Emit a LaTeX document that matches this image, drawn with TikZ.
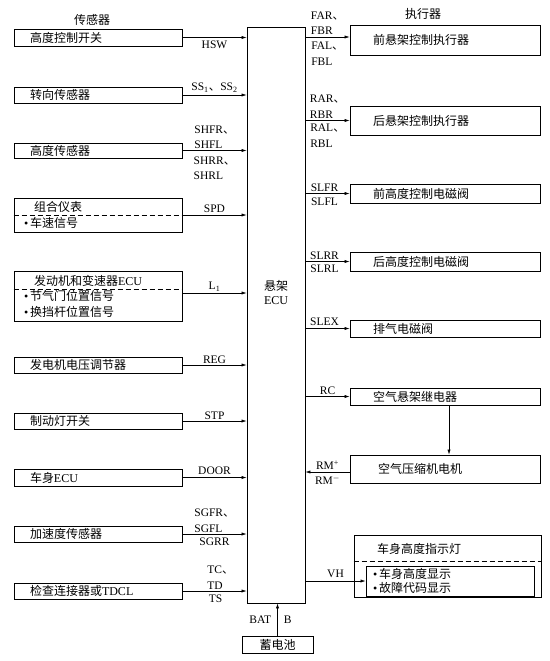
\documentclass[tikz,border=0pt]{standalone}
\usepackage{fontspec}
\setmainfont{Liberation Serif}
\newfontfamily\cjk{Noto Sans CJK SC}
\usetikzlibrary{positioning, arrows.meta}
\newcommand{\itemdot}{{\rmfamily\textbullet}\,}
\newcommand{\dun}{{\cjk 、}}

\begin{document}
\begin{tikzpicture}[x=1pt, y=-1pt,
    every node/.style={inner sep=0pt},
    zh/.style={font=\cjk\fontsize{12}{15.5}\selectfont},
    sig/.style={font=\fontsize{11.5}{15.5}\selectfont, align=left},
    lbox/.style={zh, draw, line width=0.8pt, text width=136pt, inner xsep=16pt, align=left},
    rbox/.style={zh, draw, line width=0.8pt, text width=144pt, inner xsep=23pt, align=left},
    arr/.style={-{Latex[length=5pt, width=3.2pt]}, line width=0.6pt},
    sep/.style={dash pattern=on 5pt off 3pt, line width=0.6pt}
]
\useasboundingbox (0,0) rectangle (549,661);

% suspension ECU
\node[draw, line width=0.8pt, minimum width=58pt, minimum height=576pt] (ecu) at (276,315) {};
\node[zh, align=center, font=\cjk\fontsize{12}{14}\selectfont] (ecutxt) at (276,293) {悬架\\\textrm{ECU}};

% sensors
\node[zh] (tsens) at (92,20) {传感器};
\node[lbox, minimum height=17pt] (hsw) at (98,37.5) {高度控制开关};
\node[lbox, minimum height=16pt] (steer) at (98,95) {转向传感器};
\node[lbox, minimum height=15pt] (hgt) at (98,150.5) {高度传感器};
\node[lbox, minimum height=34pt, inner xsep=10pt, text width=148pt,
      font=\cjk\fontsize{12}{16.5}\selectfont] (meter) at (98,215)
      {\hspace*{10pt}组合仪表\\\itemdot 车速信号};
\node[lbox, minimum height=50pt, inner xsep=10pt, text width=148pt] (eng) at (98,296)
      {\hspace*{10pt}发动机和变速器\textrm{ECU}\\\itemdot 节气门位置信号\\\itemdot 换挡杆位置信号};
\node[lbox, minimum height=16pt] (reg) at (98,365) {发电机电压调节器};
\node[lbox, minimum height=16pt] (stop) at (98,421) {制动灯开关};
\node[lbox, minimum height=17pt] (body) at (98,477.5) {车身\textrm{ECU}};
\node[lbox, minimum height=16pt] (acc) at (98,534) {加速度传感器};
\node[lbox, minimum height=16pt] (tdcl) at (98,591) {检查连接器或\textrm{TDCL}};
\draw[sep] (meter.west) -- (meter.east);
\draw[sep] ([yshift=7pt]eng.west) -- ([yshift=7pt]eng.east);

\draw[arr] (hsw.east) -- (hsw.east -| ecu.west) node[sig, midway, below=3.5pt] (shsw) {HSW};
\draw[arr] (steer.east) -- (steer.east -| ecu.west) node[sig, midway, above=2pt] (sss) {SS\textsubscript{1}\dun SS\textsubscript{2}};
\draw[arr] (hgt.east) -- (hgt.east -| ecu.west)
    node[sig, midway, above=1.5pt] (shf) {SHFR\dun\\SHFL}
    node[sig, midway, below=6pt] (shr) {SHRR\dun\\SHRL};
\draw[arr] (meter.east) -- (meter.east -| ecu.west) node[sig, midway, above=2pt] (sspd) {SPD};
\draw[arr] ([yshift=3pt]eng.east) -- ([yshift=3pt]eng.east -| ecu.west) node[sig, midway, above=1.5pt] (sl) {L\textsubscript{1}};
\draw[arr] (reg.east) -- (reg.east -| ecu.west) node[sig, midway, above=1.5pt] (sreg) {REG};
\draw[arr] (stop.east) -- (stop.east -| ecu.west) node[sig, midway, above=1.5pt] (sstp) {STP};
\draw[arr] (body.east) -- (body.east -| ecu.west) node[sig, midway, above=3pt] (sdoor) {DOOR};
\draw[arr] (acc.east) -- (acc.east -| ecu.west)
    node[sig, midway, above=1.5pt] (sgf) {SGFR\dun\\SGFL}
    node[sig, midway, below=4pt] (sgr) {SGRR};
\draw[arr] (tdcl.east) -- (tdcl.east -| ecu.west)
    node[sig, midway, above=1.5pt, xshift=6pt] (stc) {TC\dun\\TD}
    node[sig, midway, below=3.5pt, xshift=1pt] (sts) {TS};

% actuators
\node[zh] (tact) at (423,14) {执行器};
\node[rbox, minimum height=30pt] (fsus) at (445,40) {前悬架控制执行器};
\node[rbox, minimum height=29pt] (rsus) at (445,120.5) {后悬架控制执行器};
\node[rbox, minimum height=19pt] (fval) at (445,193.5) {前高度控制电磁阀};
\node[rbox, minimum height=19pt] (rval) at (445,261.5) {后高度控制电磁阀};
\node[rbox, minimum height=17pt] (exh) at (445,328.5) {排气电磁阀};
\node[rbox, minimum height=17pt] (relay) at (445,396.5) {空气悬架继电器};
\node[rbox, minimum height=28pt, inner xsep=28pt, text width=134pt] (comp) at (445,469) {空气压缩机电机};
\node[draw, line width=0.8pt, minimum width=187pt, minimum height=62pt] (ind) at (447.5,566) {};
\node[zh, anchor=west] (indtxt) at (377,549) {车身高度指示灯};
\node[draw, line width=0.8pt, minimum width=168pt, minimum height=30pt, text width=154pt,
      inner xsep=7pt, align=left, font=\cjk\fontsize{12}{14}\selectfont] (indsub) at (450,581)
      {\itemdot 车身高度显示\\\itemdot 故障代码显示};
\draw[sep] ([yshift=5pt]ind.west) -- ([yshift=5pt]ind.east);

\draw[arr] ([yshift=3pt]fsus.west -| ecu.east) -- ([yshift=3pt]fsus.west)
    node[sig, midway, above=2pt] (sfb) {FAR\dun\\FBR}
    node[sig, midway, below=5pt] (sfl) {FAL\dun\\FBL};
\draw[arr] (rsus.west -| ecu.east) -- (rsus.west)
    node[sig, midway, above=2pt] (srb) {RAR\dun\\RBR}
    node[sig, midway, below=3.5pt] (srl) {RAL\dun\\RBL};
\draw[arr] (fval.west -| ecu.east) -- (fval.west)
    node[sig, midway, above=1.5pt, xshift=-3pt] (sfr) {SLFR}
    node[sig, midway, below=4pt, xshift=-3pt] (sfv) {SLFL};
\draw[arr] (rval.west -| ecu.east) -- (rval.west)
    node[sig, midway, above=1.5pt, xshift=-3pt] (srr) {SLRR}
    node[sig, midway, below=3pt, xshift=-3pt] (srv) {SLRL};
\draw[arr] (exh.west -| ecu.east) -- (exh.west) node[sig, midway, above=2.5pt, xshift=-3pt] (sex) {SLEX};
\draw[arr] (relay.west -| ecu.east) -- (relay.west) node[sig, midway, above=2pt] (src) {RC};
\draw[arr] ([xshift=4pt]relay.south) -- ([xshift=4pt]comp.north);
\draw[arr] ([yshift=-3pt]comp.west) -- ([yshift=-3pt]comp.west -| ecu.east)
    node[sig, midway, above=2pt] (srmp) {RM\textsuperscript{+}}
    node[sig, midway, below=3pt] (srmm) {RM\textsuperscript{$-$}};
\draw[arr] (indsub.west -| ecu.east) -- (indsub.west) node[sig, midway, above=3pt] (svh) {VH};

% battery
\node[zh, draw, line width=0.8pt, minimum width=71pt, minimum height=17pt] (bat) at (277.5,644.5) {蓄电池};
\draw[arr] (bat.north) -- (bat.north |- ecu.south)
    node[sig, midway, left=6pt] (sbat) {BAT}
    node[sig, midway, right=6pt] (sbb) {B};
\end{tikzpicture}
\end{document}
